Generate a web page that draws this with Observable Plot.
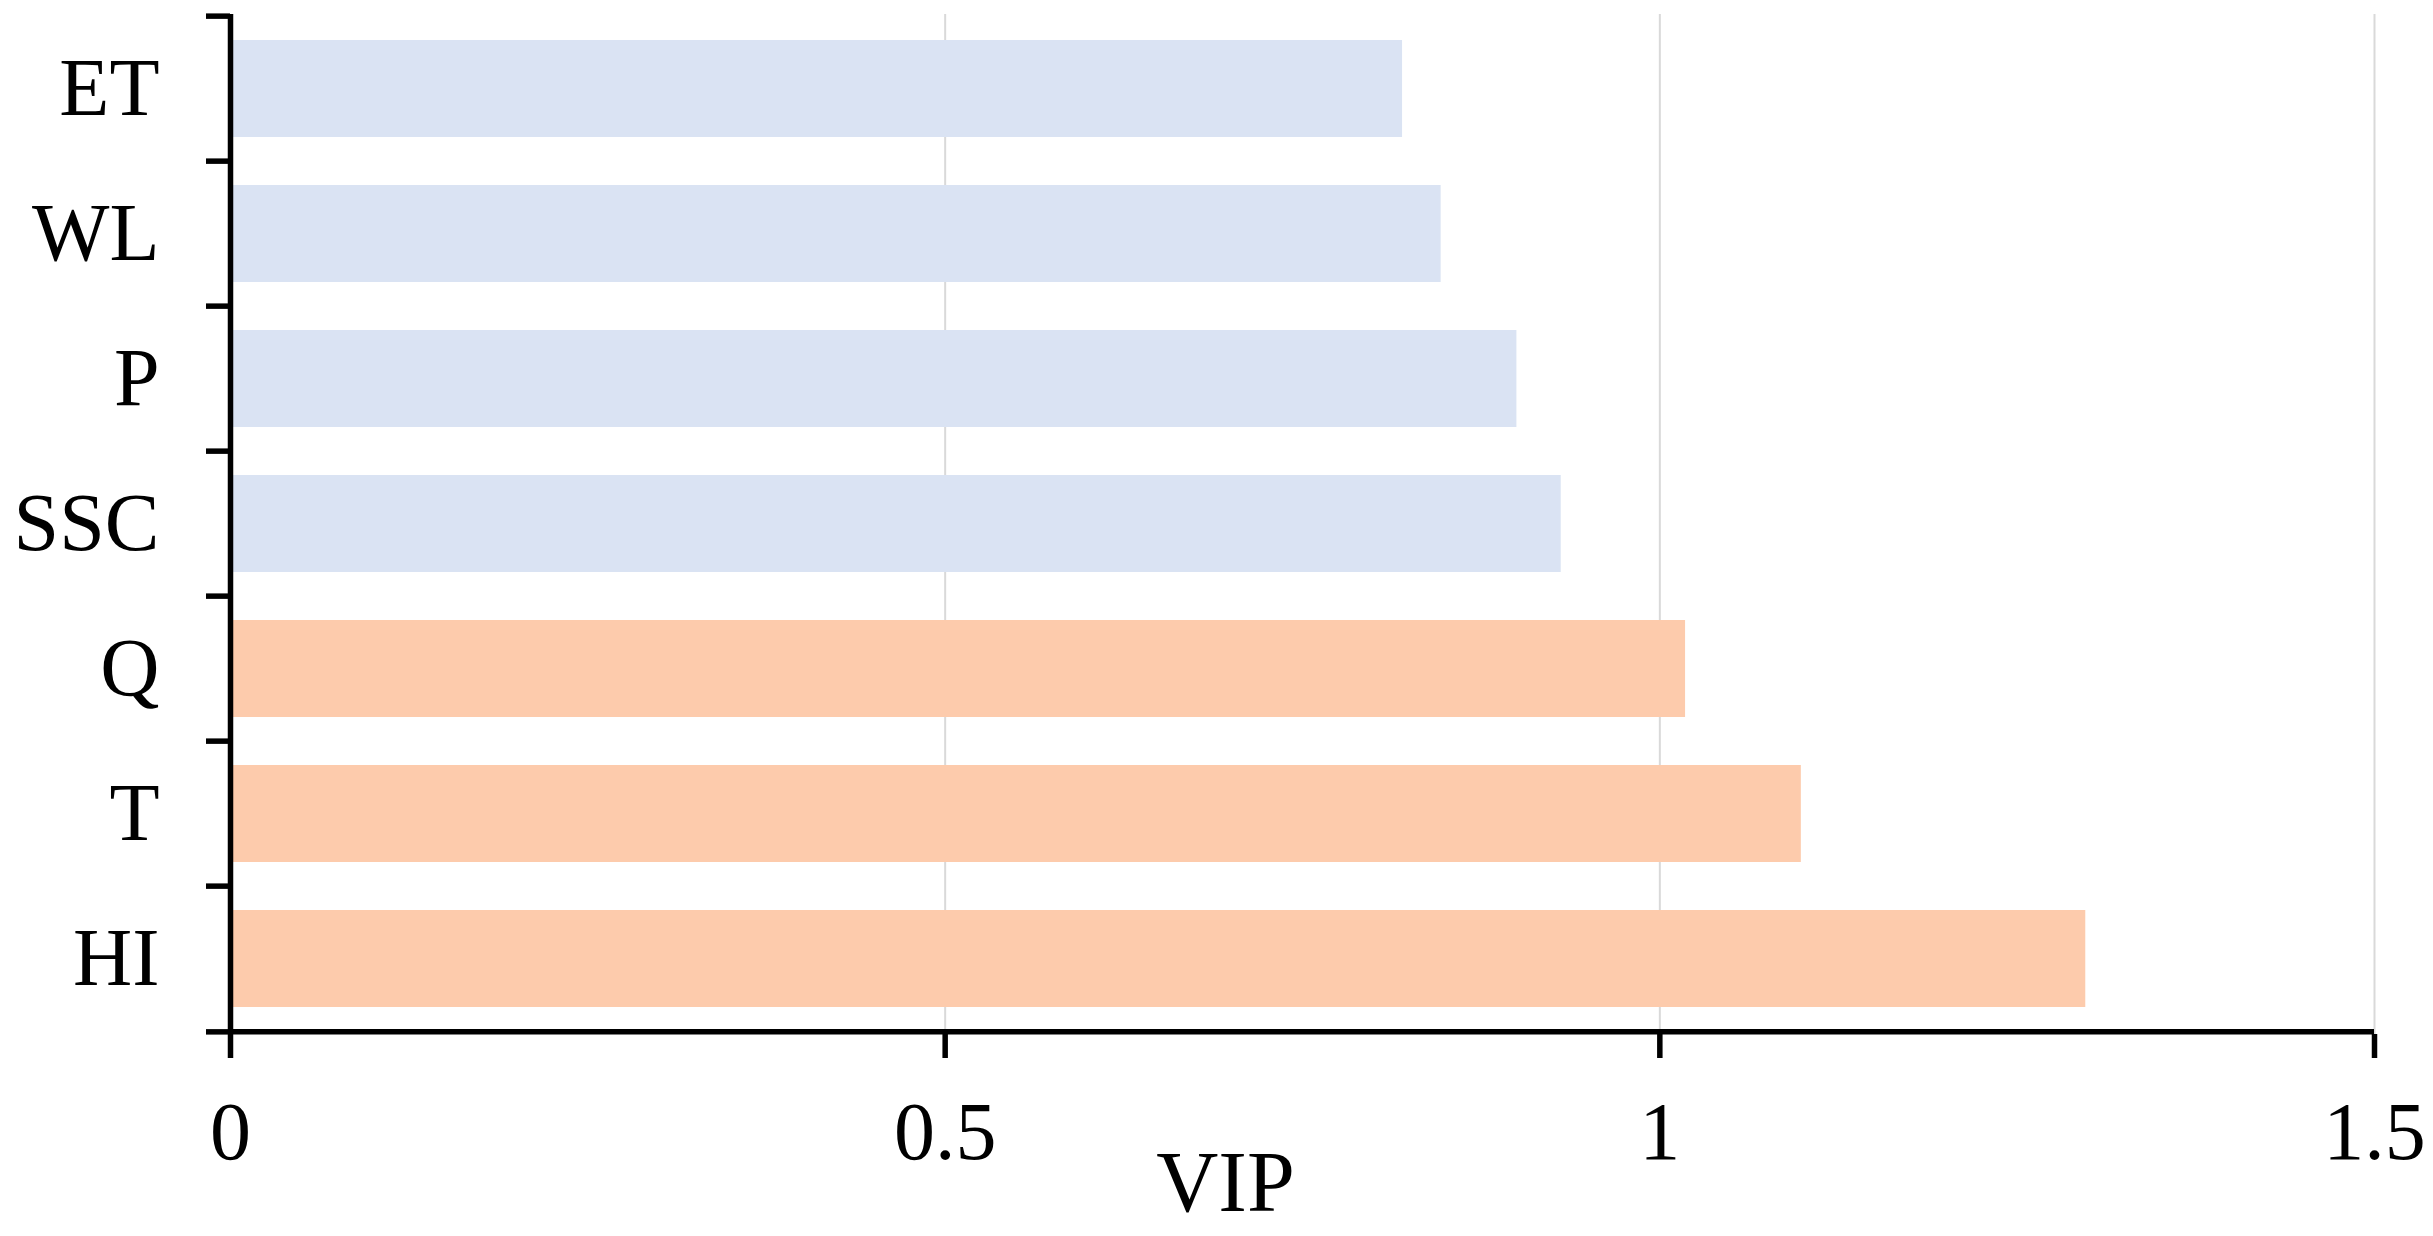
<!DOCTYPE html>
<html>
<head>
<meta charset="utf-8">
<script src="https://cdn.jsdelivr.net/npm/d3@7"></script>
<script src="https://cdn.jsdelivr.net/npm/@observablehq/plot@0.6"></script>
<style>
  html, body { margin: 0; padding: 0; background: #ffffff; }
  #chart svg { display: block; }
</style>
</head>
<body>
<div id="chart"></div>
<script>
// ---- data ----
const categories = ["ET", "WL", "P", "SSC", "Q", "T", "HI"];
const vipValues  = [0.820, 0.847, 0.900, 0.931, 1.018, 1.099, 1.298];
const groups     = ["low", "low", "low", "low", "high", "high", "high"];
const xTicks     = [0, 0.5, 1, 1.5];
const axisTitle  = "VIP";

const data = categories.map((c, i) => ({name: c, vip: vipValues[i], group: groups[i]}));

// ---- layout ----
const W = 2433, H = 1236;
const mTop = 14, mBottom = 202, mLeft = 230, mRight = 59;
const step = (H - mTop - mBottom) / categories.length;
const font = "'Liberation Serif', 'Times New Roman', serif";
const axisW = 5.5;

const chart = Plot.plot({
  width: W,
  height: H,
  marginTop: mTop,
  marginBottom: mBottom,
  marginLeft: mLeft,
  marginRight: mRight,
  style: {fontFamily: font, fontSize: "82px", background: "#ffffff", color: "#000000"},
  x: {domain: [0, 1.5], ticks: xTicks},
  y: {domain: categories, paddingInner: 0.33, paddingOuter: 0.165},
  color: {domain: ["low", "high"], range: ["#dae3f3", "#fdcbac"]},
  marks: [
    Plot.gridX(xTicks.slice(1), {stroke: "#d9d9d9", strokeOpacity: 1, strokeWidth: 2}),
    Plot.barX(data, {x: "vip", y: "name", fill: "group"}),
    Plot.ruleX([0], {stroke: "#000000", strokeWidth: axisW}),
    Plot.ruleY([categories[categories.length - 1]], {dy: step / 2, stroke: "#000000", strokeWidth: axisW}),
    Plot.axisY({tickSize: 0, tickPadding: 71, fontSize: 82, label: null}),
    Plot.axisY({tickSize: 24, strokeWidth: axisW, dy: -step / 2, tickFormat: () => "", label: null}),
    Plot.axisY([categories[categories.length - 1]], {tickSize: 24, strokeWidth: axisW, dy: step / 2, tickFormat: () => "", label: null}),
    Plot.axisX(xTicks, {tickSize: 24, tickPadding: 42, strokeWidth: axisW, fontSize: 82, label: null, tickFormat: d => String(d)}),
    Plot.text([axisTitle], {text: d => d, frameAnchor: "bottom", lineAnchor: "middle", dx: -77, dy: 149, fontSize: 86, fill: "#000000"})
  ]
});
document.getElementById("chart").appendChild(chart);
</script>
</body>
</html>
